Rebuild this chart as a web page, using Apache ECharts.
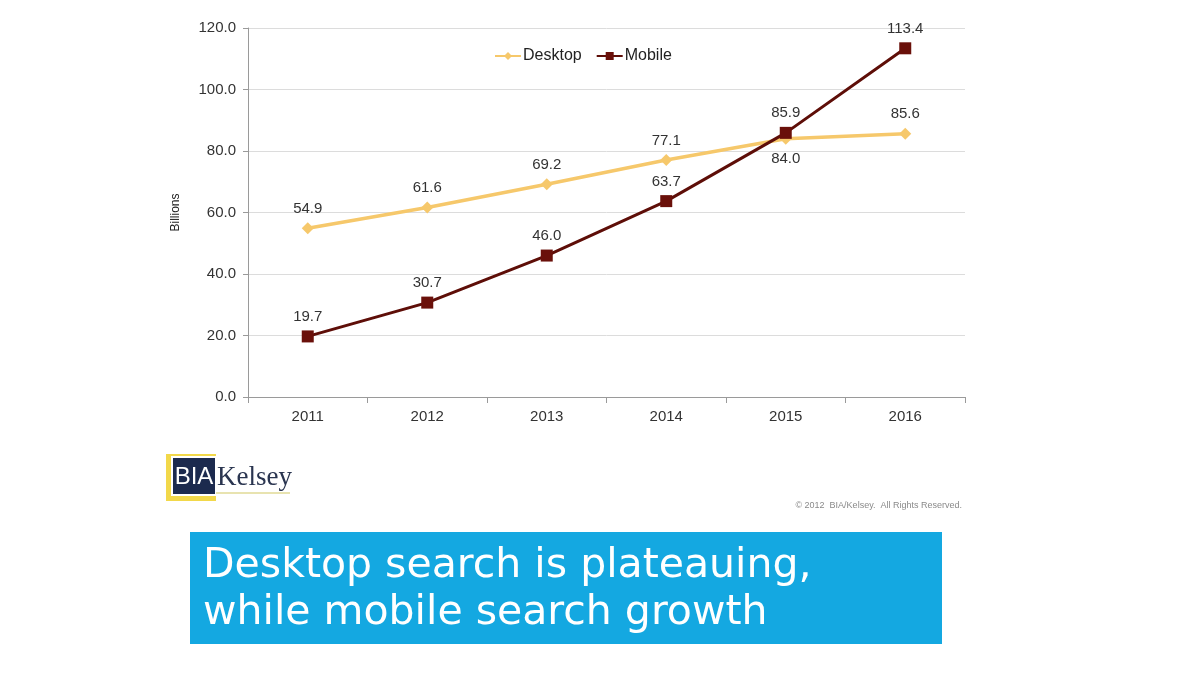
<!DOCTYPE html>
<html>
<head>
<meta charset="utf-8">
<script src="https://cdn.jsdelivr.net/npm/echarts@6/dist/echarts.min.js"></script>
<style>
html,body{margin:0;padding:0;background:#fff;}
#chart{width:1200px;height:680px;}
</style>
</head>
<body>
<div id="chart"></div>
<script>
const categories = ['2011', '2012', '2013', '2014', '2015', '2016'];
const desktopValues = [54.9, 61.6, 69.2, 77.1, 84.0, 85.6];
const mobileValues = [19.7, 30.7, 46.0, 63.7, 85.9, 113.4];
const yTicks = { min: 0, max: 120, interval: 20 };
const desktopLabelBelow = ['2015'];

const chart = echarts.init(document.getElementById('chart'));
const FONT = '"Liberation Sans", Arial, sans-serif';
const labelFont = { fontFamily: FONT, fontSize: 15, color: '#333' };

chart.setOption({
  animation: false,
  backgroundColor: '#fff',
  grid: { left: 248, right: 235, top: 28, bottom: 283, containLabel: false },
  legend: {
    top: 43, left: 489,
    itemWidth: 26, itemHeight: 10, itemGap: 14,
    textStyle: { fontFamily: FONT, fontSize: 16, color: '#222', padding: [0, 0, 0, -3] },
    data: ['Desktop', 'Mobile']
  },
  xAxis: {
    type: 'category', data: categories, boundaryGap: true,
    axisLine: { lineStyle: { color: '#9a9a9a', width: 1 } },
    axisTick: { show: true, length: 6, lineStyle: { color: '#9a9a9a' } },
    axisLabel: { ...labelFont, margin: 12 }
  },
  yAxis: {
    type: 'value', min: yTicks.min, max: yTicks.max, interval: yTicks.interval,
    name: 'Billions', nameLocation: 'middle', nameGap: 66, nameRotate: 90,
    nameTextStyle: { fontFamily: FONT, fontSize: 12, color: '#222' },
    axisLine: { show: true, lineStyle: { color: '#9a9a9a', width: 1 } },
    axisTick: { show: true, length: 5, lineStyle: { color: '#9a9a9a' } },
    splitLine: { lineStyle: { color: '#dcdcdc', width: 1 } },
    axisLabel: { ...labelFont, margin: 12, formatter: v => v.toFixed(1) }
  },
  series: [
    {
      name: 'Desktop', type: 'line', data: desktopValues.map((v, i) => ({
        value: v,
        label: desktopLabelBelow.includes(categories[i]) ? { position: 'bottom', distance: 7 } : undefined
      })),
      symbol: 'diamond', symbolSize: 12,
      lineStyle: { color: '#F6C86B', width: 3.5 },
      itemStyle: { color: '#F6C86B' },
      label: { show: true, position: 'top', distance: 6, ...labelFont, formatter: p => p.value.toFixed(1) },
      z: 2
    },
    {
      name: 'Mobile', type: 'line', data: mobileValues,
      symbol: 'rect', symbolSize: 12,
      lineStyle: { color: '#5E0E08', width: 3 },
      itemStyle: { color: '#6A100A' },
      label: { show: true, position: 'top', distance: 6, ...labelFont, formatter: p => p.value.toFixed(1) },
      z: 3
    }
  ],
  graphic: [
    { type: 'rect', shape: { x: 166, y: 454, width: 50, height: 47 }, style: { fill: '#F2D84A' } },
    { type: 'rect', shape: { x: 171, y: 456, width: 45, height: 40 }, style: { fill: '#fff' } },
    { type: 'rect', shape: { x: 173, y: 458, width: 42, height: 36 }, style: { fill: '#1C2A4E' } },
    { type: 'text', style: { x: 194, y: 477, text: 'BIA', fill: '#fff', align: 'center', verticalAlign: 'middle',
        font: '24px "Liberation Sans Narrow", "Liberation Sans", Arial, sans-serif' } },
    { type: 'text', style: { x: 217, y: 478, text: 'Kelsey', fill: '#2A3550', align: 'left', verticalAlign: 'middle',
        font: '27px "Liberation Serif", "Times New Roman", serif' } },
    { type: 'rect', shape: { x: 216, y: 492, width: 74, height: 2 }, style: { fill: '#E8E3B0' } },
    { type: 'text', style: { x: 962, y: 506, text: '© 2012  BIA/Kelsey.  All Rights Reserved.', fill: '#8a8a8a', align: 'right', verticalAlign: 'middle',
        font: '9px "Liberation Sans Narrow", "Liberation Sans", Arial, sans-serif' } },
    { type: 'rect', shape: { x: 190, y: 532, width: 752, height: 112 }, style: { fill: '#14A8E1' } },
    { type: 'text', style: { x: 203, y: 566, text: 'Desktop search is plateauing,', fill: '#fff', align: 'left', verticalAlign: 'middle',
        font: '41px "DejaVu Sans", Verdana, sans-serif' } },
    { type: 'text', style: { x: 203, y: 613, text: 'while mobile search growth', fill: '#fff', align: 'left', verticalAlign: 'middle',
        font: '41px "DejaVu Sans", Verdana, sans-serif' } }
  ]
});
</script>
</body>
</html>
